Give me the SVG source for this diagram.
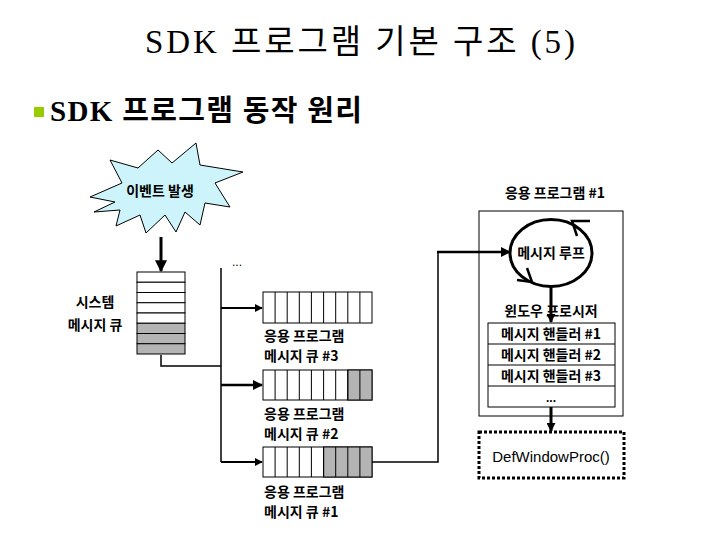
<svg xmlns="http://www.w3.org/2000/svg" width="720" height="540" viewBox="0 0 720 540">
<style>
.lbl{font-family:"Noto Sans CJK KR","Liberation Sans",sans-serif;font-size:14px;font-weight:bold;fill:#000}
.ln{stroke:#000;stroke-width:1.5;fill:none}
.thick{stroke:#000;stroke-width:3;fill:none}
.cell{fill:#fff;stroke:#000;stroke-width:1}
.gray{fill:#b4b4b4;stroke:#000;stroke-width:1}
</style>
<defs>
<marker id="ah" viewBox="0 0 10 10" refX="9" refY="5" markerWidth="4" markerHeight="4" orient="auto" markerUnits="strokeWidth">
<path d="M0,0 L10,5 L0,10 z" fill="#000"/>
</marker>
<marker id="ah2" viewBox="0 0 10 10" refX="9" refY="5" markerWidth="3" markerHeight="3" orient="auto" markerUnits="strokeWidth">
<path d="M0,0 L10,5 L0,10 z" fill="#000"/>
</marker>
</defs>
<rect width="720" height="540" fill="#fff"/>
<g id="title">
<text x="145" y="53" textLength="430" lengthAdjust="spacing" font-family="Liberation Serif,'Noto Sans CJK KR',serif" font-size="33" fill="#000">SDK 프로그램 기본 구조 (5)</text>
</g>
<g id="subtitle">
<rect x="34" y="107" width="10" height="10" fill="#99cc00"/>
<text x="50" y="121" textLength="312" lengthAdjust="spacing" font-family="Liberation Serif,'Noto Sans CJK KR',serif" font-size="29" font-weight="bold" fill="#000">SDK 프로그램 동작 원리</text>
</g>
<g id="event">
<polygon points="90,197 122,183 110,160 138,168 158,150 172,163 196,143 200,165 243,172 215,183 230,207 205,203 200,225 185,212 176,232 165,215 146,233 140,215 116,226 120,210 94,212 115,202" fill="#ccf4fa" stroke="#000" stroke-width="1"/>
<text x="160" y="196" text-anchor="middle" class="lbl" font-size="15">이벤트 발생</text>
</g>
<g id="connectors">
<line x1="161" y1="237" x2="161" y2="271" class="thick" marker-end="url(#ah)"/>
<polyline points="161,355 161,366 221,366" class="ln"/>
<line x1="221" y1="268" x2="221" y2="462" class="ln"/>
<line x1="221" y1="308" x2="262" y2="308" stroke="#000" stroke-width="2" marker-end="url(#ah)"/>
<line x1="221" y1="385" x2="262" y2="385" stroke="#000" stroke-width="2.5" marker-end="url(#ah)"/>
<line x1="221" y1="462" x2="262" y2="462" stroke="#000" stroke-width="2" marker-end="url(#ah)"/>
<polyline points="372,462 438,462 438,252" class="ln"/>
<line x1="437" y1="252" x2="510" y2="252" stroke="#000" stroke-width="2.5" marker-end="url(#ah)"/>
<line x1="551" y1="287" x2="551" y2="322" class="thick" marker-end="url(#ah2)"/>
<line x1="551" y1="407" x2="551" y2="431" class="thick" marker-end="url(#ah2)"/>
<text x="232" y="266" font-family="Liberation Sans,sans-serif" font-size="12" fill="#000">...</text>
</g>
<g id="system-queue">
<rect x="137" y="272" width="48" height="10.25" class="cell"/>
<rect x="137" y="282.25" width="48" height="10.25" class="cell"/>
<rect x="137" y="292.5" width="48" height="10.25" class="cell"/>
<rect x="137" y="302.75" width="48" height="10.25" class="cell"/>
<rect x="137" y="313" width="48" height="10.25" class="cell"/>
<rect x="137" y="323.25" width="48" height="10.25" class="gray"/>
<rect x="137" y="333.5" width="48" height="10.25" class="gray"/>
<rect x="137" y="343.75" width="48" height="10.25" class="gray"/>
<text x="95" y="307" text-anchor="middle" class="lbl">시스템</text>
<text x="95" y="330" text-anchor="middle" class="lbl">메시지 큐</text>
</g>
<g id="queue3">
<rect x="263" y="292" width="109" height="31" class="cell"/>
<path d="M275.1,292V323M287.2,292V323M299.3,292V323M311.4,292V323M323.6,292V323M335.7,292V323M347.8,292V323M359.9,292V323" stroke="#000" stroke-width="1"/>
<text x="264" y="341" class="lbl">응용 프로그램</text>
<text x="264" y="361" class="lbl">메시지 큐 #3</text>
</g>
<g id="queue2">
<rect x="263" y="370" width="109" height="30" class="cell"/>
<rect x="347.8" y="370" width="24.2" height="30" class="gray"/>
<path d="M275.1,370V400M287.2,370V400M299.3,370V400M311.4,370V400M323.6,370V400M335.7,370V400M347.8,370V400M359.9,370V400" stroke="#000" stroke-width="1"/>
<text x="264" y="419" class="lbl">응용 프로그램</text>
<text x="264" y="439" class="lbl">메시지 큐 #2</text>
</g>
<g id="queue1">
<rect x="263" y="447" width="109" height="30" class="cell"/>
<rect x="323.6" y="447" width="48.4" height="30" class="gray"/>
<path d="M275.1,447V477M287.2,447V477M299.3,447V477M311.4,447V477M323.6,447V477M335.7,447V477M347.8,447V477M359.9,447V477" stroke="#000" stroke-width="1"/>
<text x="264" y="497" class="lbl">응용 프로그램</text>
<text x="264" y="517" class="lbl">메시지 큐 #1</text>
</g>
<g id="app1">
<text x="555" y="198" text-anchor="middle" class="lbl" font-size="15">응용 프로그램 #1</text>
<rect x="479" y="211" width="144" height="205" fill="none" stroke="#000" stroke-width="1"/>
</g>
<g id="message-loop">
<ellipse cx="551" cy="253" rx="41" ry="33.5" fill="none" stroke="#000" stroke-width="3"/>
<polyline points="577,236 572,221 590,221" fill="none" stroke="#000" stroke-width="2.5"/>
<polyline points="527,268 532,282 517,280" fill="none" stroke="#000" stroke-width="2.5"/>
<text x="551" y="258" text-anchor="middle" class="lbl">메시지 루프</text>
</g>
<g id="window-proc">
<text x="551" y="316" text-anchor="middle" class="lbl" font-size="15">윈도우 프로시저</text>
</g>
<g id="handlers">
<rect x="488" y="323" width="127" height="84" fill="none" stroke="#000" stroke-width="1"/>
<path d="M488,344H615M488,365H615M488,386H615" stroke="#000" stroke-width="1"/>
<text x="551" y="339" text-anchor="middle" class="lbl">메시지 핸들러 #1</text>
<text x="551" y="360" text-anchor="middle" class="lbl">메시지 핸들러 #2</text>
<text x="551" y="381" text-anchor="middle" class="lbl">메시지 핸들러 #3</text>
<text x="551" y="402" text-anchor="middle" font-family="Liberation Sans,sans-serif" font-size="12" font-weight="bold">...</text>
</g>
<g id="defwindowproc">
<rect x="479" y="432" width="145" height="46" fill="none" stroke="#000" stroke-width="3" stroke-dasharray="3 2"/>
<text x="551" y="462" text-anchor="middle" font-family="Liberation Sans,sans-serif" font-size="15" fill="#000">DefWindowProc()</text>
</g>
</svg>
